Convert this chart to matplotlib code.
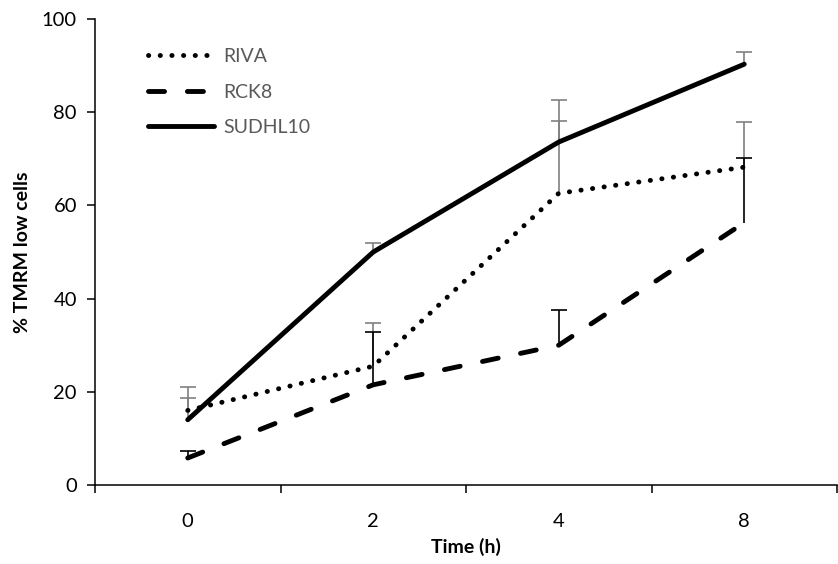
import matplotlib
matplotlib.use("Agg")
import matplotlib.pyplot as plt
from matplotlib.ticker import FixedLocator, NullFormatter

plt.rcParams['font.family'] = ['Lato', 'DejaVu Sans']

# Time points (categorical) and % TMRM-low cells per cell line
time_labels = ['0', '2', '4', '8']
riva = [16.0, 25.5, 62.6, 68.2]
riva_err = [5.0, 9.2, 15.5, 9.7]
rck8 = [5.8, 21.5, 30.0, 56.3]
rck8_err = [1.4, 11.3, 7.6, 13.8]
sudhl10 = [14.0, 50.0, 73.6, 90.3]
sudhl10_err = [4.7, 2.0, 9.0, 2.7]

fig = plt.figure(figsize=(8.38, 5.64), dpi=100)
ax = fig.add_axes([95 / 838, 79 / 564, 742 / 838, 466 / 564])

x = list(range(len(time_labels)))
lw = 3.5
grey = '#808080'

series = [
    ('RIVA', riva, riva_err, dict(linestyle=(0, (0.05, 2.35)), dash_capstyle='round'), grey),
    ('RCK8', rck8, rck8_err, dict(linestyle=(0, (3.3, 4.7)), dash_capstyle='round'), 'black'),
    ('SUDHL10', sudhl10, sudhl10_err, dict(linestyle='-', solid_capstyle='round'), grey),
]

handles = []
for name, vals, errs, style, ecol in series:
    eb = ax.errorbar(x, vals, yerr=[[0] * len(errs), errs], fmt='none',
                     ecolor=ecol, elinewidth=1.2, capsize=6, capthick=1.2, zorder=2)
    # upper-only bars: hide the cap drawn at the lower end
    eb[1][0].set_visible(False)
    h, = ax.plot(x, vals, color='black', lw=lw, label=name, zorder=3, **style)
    handles.append(h)

ax.set_xlim(-0.5, len(time_labels) - 0.5)
ax.set_ylim(0, 100)
ax.set_yticks([0, 20, 40, 60, 80, 100])

# Category boundaries carry tick marks, labels sit in the middle
ax.xaxis.set_major_locator(FixedLocator([i - 0.5 for i in range(len(time_labels) + 1)]))
ax.xaxis.set_major_formatter(NullFormatter())
ax.xaxis.set_minor_locator(FixedLocator(x))
ax.set_xticklabels(time_labels, minor=True)
ax.tick_params(axis='x', which='major', direction='out', length=6, width=1.1)
ax.tick_params(axis='x', which='minor', length=0, pad=20, labelsize=14.5)
ax.tick_params(axis='y', direction='out', length=6, width=1.1, labelsize=14.5, pad=7)

for side in ('top', 'right'):
    ax.spines[side].set_visible(False)
for side in ('left', 'bottom'):
    ax.spines[side].set_linewidth(1.1)

ax.set_xlabel('Time (h)', fontsize=14, fontweight='bold', labelpad=6)
ax.set_ylabel('% TMRM low cells', fontsize=14, fontweight='bold', labelpad=8)

leg = ax.legend(handles=handles, loc='upper left', bbox_to_anchor=(0.048, 0.975),
                frameon=False, fontsize=14, handlelength=3.4, handletextpad=0.45,
                labelspacing=0.95)
for t in leg.get_texts():
    t.set_color('#595959')

fig.savefig('out.png', dpi=100)
